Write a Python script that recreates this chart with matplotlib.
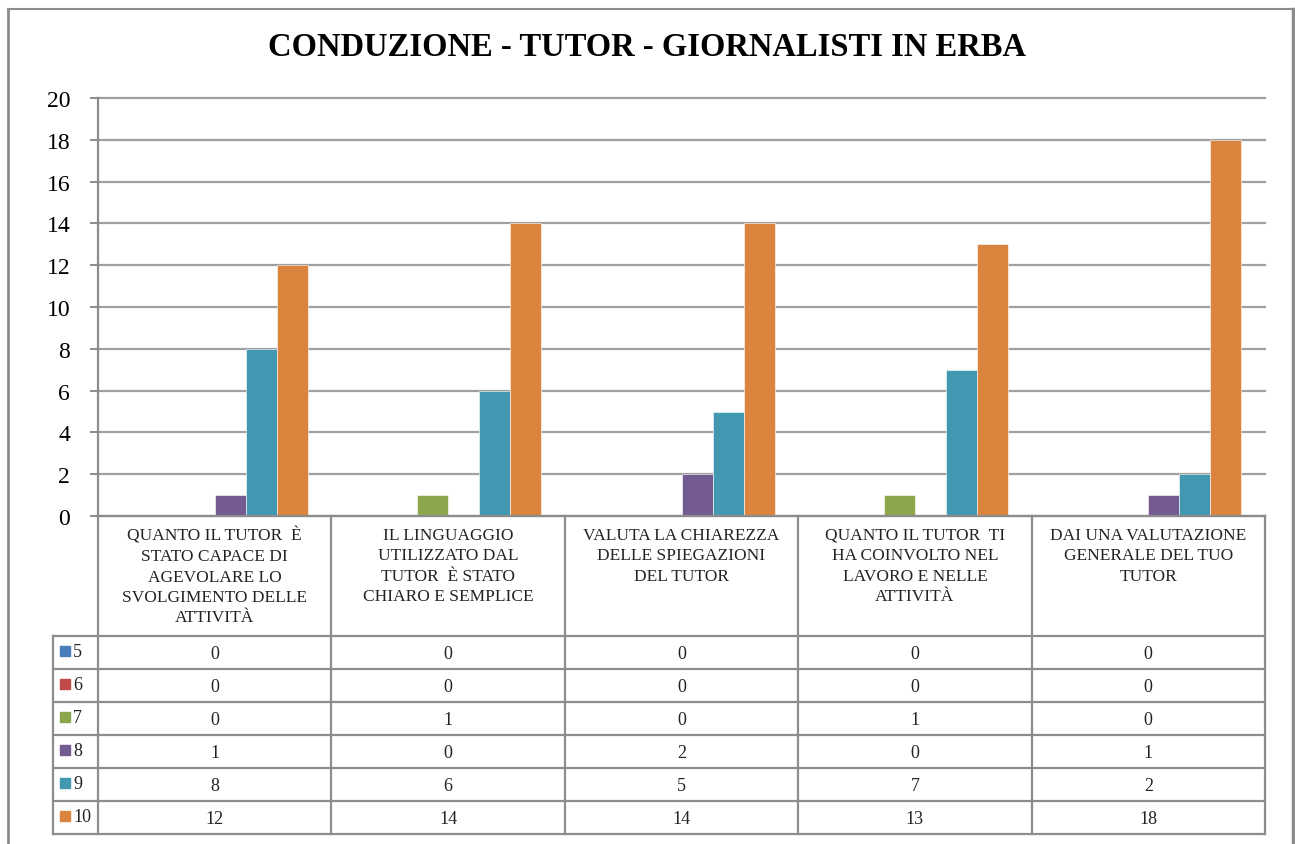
import numpy as np
import matplotlib
matplotlib.use('Agg')
import matplotlib.pyplot as plt
from matplotlib.patches import Rectangle
from matplotlib.lines import Line2D

title = 'CONDUZIONE - TUTOR - GIORNALISTI IN ERBA'
categories = [
    'QUANTO IL TUTOR  È\nSTATO CAPACE DI\nAGEVOLARE LO\nSVOLGIMENTO DELLE\nATTIVITÀ',
    'IL LINGUAGGIO\nUTILIZZATO DAL\nTUTOR  È STATO\nCHIARO E SEMPLICE',
    'VALUTA LA CHIAREZZA\nDELLE SPIEGAZIONI\nDEL TUTOR',
    'QUANTO IL TUTOR  TI\nHA COINVOLTO NEL\nLAVORO E NELLE\nATTIVITÀ',
    'DAI UNA VALUTAZIONE\nGENERALE DEL TUO\nTUTOR',
]
series_names = ['5', '6', '7', '8', '9', '10']
v5 = [0, 0, 0, 0, 0]
v6 = [0, 0, 0, 0, 0]
v7 = [0, 1, 0, 1, 0]
v8 = [1, 0, 2, 0, 1]
v9 = [8, 6, 5, 7, 2]
v10 = [12, 14, 14, 13, 18]
series_values = [v5, v6, v7, v8, v9, v10]
colors = ['#4A7EBB', '#BE4B48', '#8CA64E', '#735A91', '#4198B0', '#DB843D']

plt.rcParams['font.family'] = ['Liberation Serif', 'DejaVu Serif']

W, H = 1295, 845
fig = plt.figure(figsize=(W / 100, H / 100), dpi=100)

def fx(px):
    return px / W

def fy(py):
    return 1 - py / H

grid_c = '#8C8C8C'

# outer border of the chart (bottom is cut off)
fig.add_artist(Line2D([fx(8), fx(8)], [fy(10), 0], color='#8C8C8C', lw=2))
fig.add_artist(Line2D([fx(8), fx(1293)], [fy(10), fy(10)], color='#8C8C8C', lw=1.5))
fig.add_artist(Line2D([fx(1293), fx(1293)], [fy(10), 0], color='#8C8C8C', lw=2.5))

x0, x1 = 98, 1265
ytop, ybot = 99, 517
ax = fig.add_axes([fx(x0), fy(ybot), fx(x1) - fx(x0), fy(ytop) - fy(ybot)])

n = len(categories)
ns = len(series_names)
bw = 31 / 233.4
x = np.arange(n)
for i, (name, vals, c) in enumerate(zip(series_names, series_values, colors)):
    offs = (i - (ns - 1) / 2) * bw
    ax.bar(x + offs, vals, width=bw, color=c, edgecolor='white', linewidth=0.4, zorder=3)

ax.set_xlim(-0.5, n - 0.5)
ax.set_ylim(0, 20)
ax.set_yticks(range(0, 21, 2))
ax.yaxis.grid(True, color='#A0A0A0', lw=1.6)
for gl in ax.get_ygridlines():
    gl.set_clip_on(False)
ax.set_axisbelow(True)
ax.set_xticks([])
for s in ['top', 'right', 'bottom']:
    ax.spines[s].set_visible(False)
ax.spines['left'].set_color(grid_c)
ax.spines['left'].set_linewidth(1.6)
ax.tick_params(axis='y', length=6, width=1.4, color=grid_c, labelsize=17, pad=14)

fig.text(0.5, fy(47), title, ha='center', va='center', fontsize=23.5, fontweight='bold')

# data table under the axis
col_edges = [x0 + k * (x1 - x0) / n for k in range(n + 1)]
head_bot = 637
row_h = 33
nrows = len(series_names)
tab_bot = head_bot + nrows * row_h
lab_left = 53

def hline(xa, xb, y, lw=1.6):
    fig.add_artist(Line2D([fx(xa), fx(xb)], [fy(y), fy(y)], color=grid_c, lw=lw))

def vline(xp, ya, yb, lw=1.6):
    fig.add_artist(Line2D([fx(xp), fx(xp)], [fy(ya), fy(yb)], color=grid_c, lw=lw))

for xe in col_edges:
    vline(xe, ybot, tab_bot)
vline(lab_left, head_bot, tab_bot)
hline(x0, x1, ybot)
for r in range(nrows + 1):
    hline(lab_left, x1, head_bot + r * row_h)

for j, cat in enumerate(categories):
    cx = (col_edges[j] + col_edges[j + 1]) / 2
    fig.text(fx(cx), fy(528), cat, ha='center', va='top', fontsize=12.5,
             color='#222222', linespacing=1.36)

for r, (name, vals, c) in enumerate(zip(series_names, series_values, colors)):
    yc = head_bot + (r + 0.5) * row_h
    fig.add_artist(Rectangle((fx(60), fy(yc + 3)), fx(10), fy(0) - fy(10),
                             color=c, transform=fig.transFigure))
    fig.text(fx(73), fy(yc - 1), name, ha='left', va='center', fontsize=13, color='#222222')
    for j, v in enumerate(vals):
        cx = (col_edges[j] + col_edges[j + 1]) / 2
        fig.text(fx(cx), fy(yc + 1), str(v), ha='center', va='center', fontsize=13, color='#222222')

fig.savefig('out.png', dpi=100, facecolor='white')
